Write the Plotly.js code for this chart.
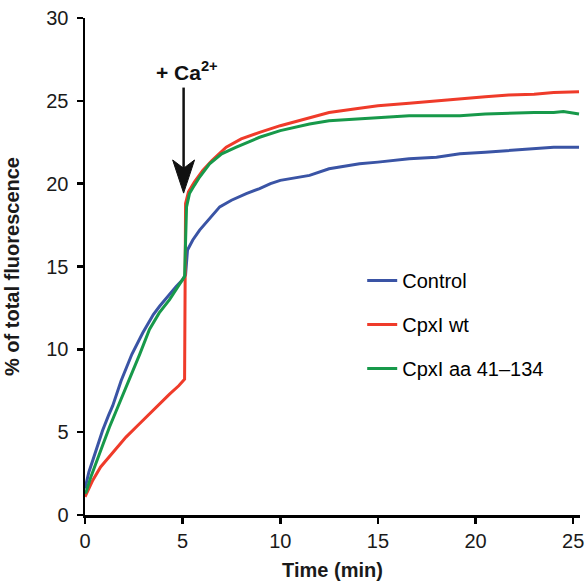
<!DOCTYPE html>
<html>
<head>
<meta charset="utf-8">
<script src="https://cdn.plot.ly/plotly-3.0.1.min.js"></script>
<style>html,body{margin:0;padding:0;background:#fff;}#chart{width:588px;height:581px;}</style>
</head>
<body>
<div id="chart"></div>
<script>
// Control (blue)
var controlX = [0, 0.2, 0.4, 0.7, 0.9, 1.2, 1.42, 1.85, 2.4, 2.96, 3.2, 3.5, 3.82, 4.1, 4.4, 4.67, 5.0, 5.15, 5.25, 5.52, 5.87, 6.3, 6.9, 7.5, 8.26, 8.94, 9.5, 10, 11, 11.5, 12.5, 14.06, 15, 16.6, 18, 19.2, 20.5, 21.7, 23, 24, 25.3];
var controlY = [1.6, 2.6, 3.3, 4.4, 5.1, 6.0, 6.6, 8.1, 9.7, 11.0, 11.5, 12.1, 12.6, 13.0, 13.4, 13.8, 14.2, 14.5, 16.0, 16.6, 17.2, 17.8, 18.6, 19.0, 19.4, 19.7, 20.0, 20.2, 20.4, 20.5, 20.9, 21.2, 21.3, 21.5, 21.6, 21.8, 21.9, 22.0, 22.1, 22.2, 22.2];
// CpxI wt (red)
var wtX = [0, 0.4, 0.8, 1.25, 1.7, 2.1, 2.7, 3.3, 3.8, 4.33, 4.8, 5.1, 5.15, 5.3, 5.6, 6.03, 6.5, 7.23, 8, 8.94, 10, 11.5, 12.5, 14.06, 15, 16.6, 18, 19.2, 20.5, 21.7, 23, 24, 25.3];
var wtY = [1.1, 2.1, 2.9, 3.5, 4.1, 4.7, 5.4, 6.1, 6.7, 7.3, 7.8, 8.2, 18.8, 19.5, 20.1, 20.8, 21.4, 22.2, 22.7, 23.1, 23.5, 24.0, 24.3, 24.55, 24.7, 24.85, 25.0, 25.15, 25.25, 25.35, 25.4, 25.5, 25.55];
// CpxI aa 41-134 (green)
var aaX = [0, 0.06, 0.3, 0.57, 0.9, 1.25, 1.6, 1.94, 2.28, 2.8, 3.3, 3.8, 4.33, 4.7, 5.1, 5.2, 5.35, 5.6, 5.87, 6.38, 7, 7.75, 8.94, 10, 11.5, 12.5, 14.06, 15, 16.6, 18, 19.2, 20.5, 21.7, 23, 24, 24.5, 25.3];
var aaY = [1.3, 1.4, 2.3, 3.1, 4.2, 5.3, 6.3, 7.2, 8.15, 9.7, 11.2, 12.2, 13.0, 13.7, 14.4, 18.6, 19.4, 19.9, 20.4, 21.2, 21.8, 22.2, 22.8, 23.2, 23.6, 23.8, 23.9, 24.0, 24.1, 24.1, 24.1, 24.2, 24.25, 24.3, 24.3, 24.35, 24.2];

var seriesNames = ['Control', 'CpxI wt', 'CpxI aa 41\u2013134'];
var seriesColors = ['#3a54a5', '#ef3b2a', '#17994a'];

var xTicks = [0, 5, 10, 15, 20, 25];
var yTicks = [0, 5, 10, 15, 20, 25, 30];

// Ca2+ addition marker
var caTime = 5.05;
var caTipY = 19.43;
var caTailY = 25.8;
var headLen = 2.0, headHalfW = 0.56, notch = 1.5;

var font = 'Arial, "Liberation Sans", Helvetica, sans-serif';

var traces = [
  {x: controlX, y: controlY},
  {x: wtX, y: wtY},
  {x: aaX, y: aaY}
].map(function (d, i) {
  return {
    x: d.x, y: d.y, type: 'scatter', mode: 'lines',
    name: seriesNames[i], legendgroup: 'g' + i,
    line: {color: seriesColors[i], width: 3}
  };
});

var layout = {
  width: 588, height: 581,
  margin: {l: 85, r: 8, t: 18, b: 66},
  paper_bgcolor: '#fff', plot_bgcolor: '#fff',
  font: {family: font, size: 20, color: '#000'},
  showlegend: true,
  legend: {
    x: 0.56, y: 0.511, xanchor: 'left', yanchor: 'top',
    bgcolor: 'rgba(0,0,0,0)', font: {family: font, size: 20, color: '#000'},
    tracegroupgap: 15
  },
  xaxis: {
    range: [0, 25.35], tickvals: xTicks, ticktext: xTicks.map(String),
    showgrid: false, zeroline: false, showline: true, linecolor: '#000', linewidth: 2.5,
    ticks: 'outside', ticklen: 6, tickwidth: 2.5, tickcolor: '#000',
    tickfont: {family: font, size: 20, color: '#1a1a1a'},
    title: {text: '<b>Time (min)</b>', font: {family: font, size: 20, color: '#1a1a1a'}, standoff: 13},
    automargin: false
  },
  yaxis: {
    range: [0, 30], tickvals: yTicks, ticktext: yTicks.map(String),
    showgrid: false, zeroline: false, showline: true, linecolor: '#000', linewidth: 2.5,
    ticks: 'outside', ticklen: 6, tickwidth: 2.5, tickcolor: '#000', ticklabelstandoff: 4,
    tickfont: {family: font, size: 20, color: '#1a1a1a'},
    title: {text: '<b>% of total fluorescence</b>', font: {family: font, size: 20, color: '#1a1a1a'}, standoff: 22},
    automargin: false
  },
  shapes: [
    {type: 'line', xref: 'x', yref: 'y', x0: caTime, x1: caTime, y0: caTipY + headLen - 0.6, y1: caTailY,
     line: {color: '#111', width: 2.5}},
    {type: 'path', xref: 'x', yref: 'y',
     path: 'M' + caTime + ',' + caTipY +
           ' L' + (caTime - headHalfW) + ',' + (caTipY + headLen) +
           ' L' + caTime + ',' + (caTipY + notch) +
           ' L' + (caTime + headHalfW) + ',' + (caTipY + headLen) + ' Z',
     fillcolor: '#111', line: {color: '#111', width: 1}}
  ],
  annotations: [
    {xref: 'x', yref: 'y', x: caTime + 0.15, y: caTailY + 0.1, yanchor: 'bottom', xanchor: 'center',
     showarrow: false, text: '<b>+ Ca<sup>2+</sup></b>',
     font: {family: font, size: 21, color: '#111'}}
  ]
};

Plotly.newPlot('chart', traces, layout, {displayModeBar: false, staticPlot: true});
</script>
</body>
</html>
